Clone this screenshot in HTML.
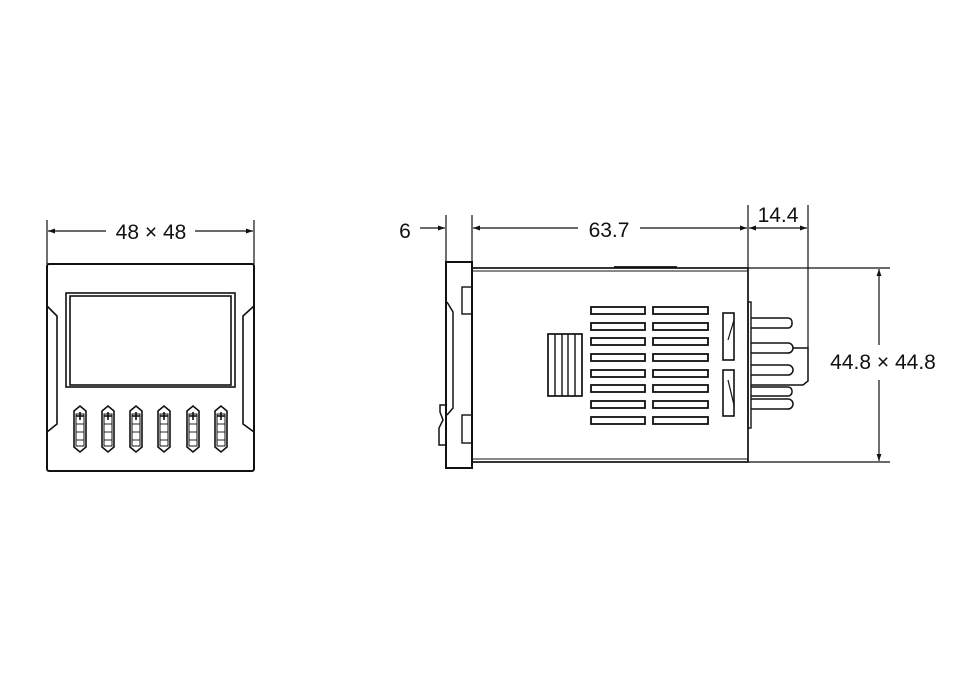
<!DOCTYPE html>
<html><head><style>body{margin:0;background:#fff}svg{display:block}</style></head><body>
<svg width="954" height="700" viewBox="0 0 954 700" xmlns="http://www.w3.org/2000/svg" font-family="Liberation Sans, sans-serif">
<defs><marker id="a" viewBox="0 0 10 10" refX="10" refY="5" markerWidth="12" markerHeight="7" orient="auto-start-reverse" markerUnits="userSpaceOnUse"><path d="M0,1.5 L10,5 L0,8.5z" fill="#111"/></marker></defs>
<g stroke="#111" fill="none" stroke-width="1.2">
<!-- front view -->
<line x1="47" y1="220" x2="47" y2="264"/><line x1="254" y1="220" x2="254" y2="264"/>
<line x1="48" y1="231" x2="106" y2="231" marker-start="url(#a)"/><line x1="195" y1="231" x2="253" y2="231" marker-end="url(#a)"/>
<rect x="47" y="264" width="207" height="207" rx="2" stroke-width="2"/>
<rect x="66" y="293" width="169" height="94" stroke-width="1.6"/>
<rect x="70" y="296" width="161" height="89" stroke-width="1.6"/>
<path d="M47,306 L57,316 L57,424 L47,432" stroke-width="1.6"/>
<path d="M254,306 L243,316 L243,424 L254,432" stroke-width="1.6"/>
<g stroke-width="1.6">
<g id="b"><path d="M74,411 L80,406 L86,411 L86,447 L80,452 L74,447Z"/><path d="M76,414h8v32h-8z" stroke-width="1"/><line x1="80" y1="412" x2="80" y2="420"/><line x1="76" y1="416" x2="84" y2="416"/><line x1="76" y1="424" x2="84" y2="424" stroke-width="0.9"/><line x1="76" y1="432" x2="84" y2="432" stroke-width="0.9"/><line x1="76" y1="440" x2="84" y2="440" stroke-width="0.9"/></g>
<use href="#b" x="28"/><use href="#b" x="56"/><use href="#b" x="84"/><use href="#b" x="113"/><use href="#b" x="141"/>
</g>
<!-- side view -->
<line x1="446" y1="215" x2="446" y2="262"/><line x1="472" y1="215" x2="472" y2="268"/>
<line x1="748" y1="205" x2="748" y2="268"/><line x1="808" y1="205" x2="808" y2="348"/>
<line x1="420" y1="228" x2="445" y2="228" marker-end="url(#a)"/>
<line x1="473" y1="228" x2="578" y2="228" marker-start="url(#a)"/><line x1="640" y1="228" x2="747" y2="228" marker-end="url(#a)"/>
<line x1="749" y1="228" x2="807" y2="228" marker-start="url(#a)" marker-end="url(#a)"/>
<line x1="748" y1="268" x2="890" y2="268"/><line x1="748" y1="462" x2="890" y2="462"/>
<line x1="879" y1="269" x2="879" y2="345" marker-start="url(#a)"/><line x1="879" y1="380" x2="879" y2="461" marker-end="url(#a)"/>
<rect x="446" y="262" width="26" height="206" stroke-width="2"/>
<path d="M447,302 L453,312 L453,408 L447,415" stroke-width="1.5"/>
<rect x="462" y="287" width="10" height="27" stroke-width="1.4"/><rect x="462" y="415" width="10" height="28" stroke-width="1.4"/>
<path d="M446,405 L440,405 L440,412 L443,420 L439,428 L439,445 L446,445" stroke-width="1.5"/>
<rect x="472" y="268" width="276" height="194" stroke-width="1.7"/>
<line x1="472" y1="271" x2="748" y2="271" stroke-width="0.9"/><line x1="472" y1="459" x2="748" y2="459" stroke-width="0.9"/>
<line x1="614" y1="267" x2="677" y2="267" stroke-width="1.8"/>
<rect x="548" y="334" width="34" height="62" stroke-width="1.7"/>
<g stroke-width="1.4"><line x1="555" y1="334" x2="555" y2="396"/><line x1="562" y1="334" x2="562" y2="396"/><line x1="568" y1="334" x2="568" y2="396"/><line x1="575" y1="334" x2="575" y2="396"/></g>
<g stroke-width="1.8">
<rect x="591" y="307" width="54" height="7"/><rect x="653" y="307" width="55" height="7"/>
<rect x="591" y="323" width="54" height="7"/><rect x="653" y="323" width="55" height="7"/>
<rect x="591" y="338" width="54" height="7"/><rect x="653" y="338" width="55" height="7"/>
<rect x="591" y="354" width="54" height="7"/><rect x="653" y="354" width="55" height="7"/>
<rect x="591" y="370" width="54" height="7"/><rect x="653" y="370" width="55" height="7"/>
<rect x="591" y="385" width="54" height="7"/><rect x="653" y="385" width="55" height="7"/>
<rect x="591" y="401" width="54" height="7"/><rect x="653" y="401" width="55" height="7"/>
<rect x="591" y="417" width="54" height="7"/><rect x="653" y="417" width="55" height="7"/>
</g>
<rect x="723" y="313" width="11" height="47" stroke-width="1.6"/><line x1="734" y1="320" x2="728" y2="340"/>
<rect x="723" y="370" width="11" height="46" stroke-width="1.6"/><line x1="728" y1="380" x2="734" y2="405"/>
<rect x="748" y="302" width="3" height="126" stroke-width="1.4"/>
<g stroke-width="1.5">
<path d="M751,318 H788 a4,4 0 0 1 4,4 v2 a4,4 0 0 1 -4,4 H751"/>
<path d="M751,343 H788 a5,5 0 0 1 5,5 v0 a5,5 0 0 1 -5,5 H751"/>
<path d="M751,365 H788 a5,5 0 0 1 5,5 v0 a5,5 0 0 1 -5,5 H751"/>
<path d="M751,387 H788 a4,4 0 0 1 4,4 v1 a4,4 0 0 1 -4,4 H751"/>
<path d="M751,399 H788 a5,5 0 0 1 5,5 v0 a5,5 0 0 1 -5,5 H751"/>
<path d="M793,348 H808 V381 L803,385 H751"/>
</g>
</g>
<g fill="#111" font-size="21" text-anchor="middle">
<text x="151" y="239">48 × 48</text>
<text x="405" y="238">6</text>
<text x="609" y="237">63.7</text>
<text x="778" y="222">14.4</text>
<rect x="824" y="348" width="120" height="28" fill="#fff"/>
<text x="883" y="369">44.8 × 44.8</text>
</g>
</svg>
</body></html>
